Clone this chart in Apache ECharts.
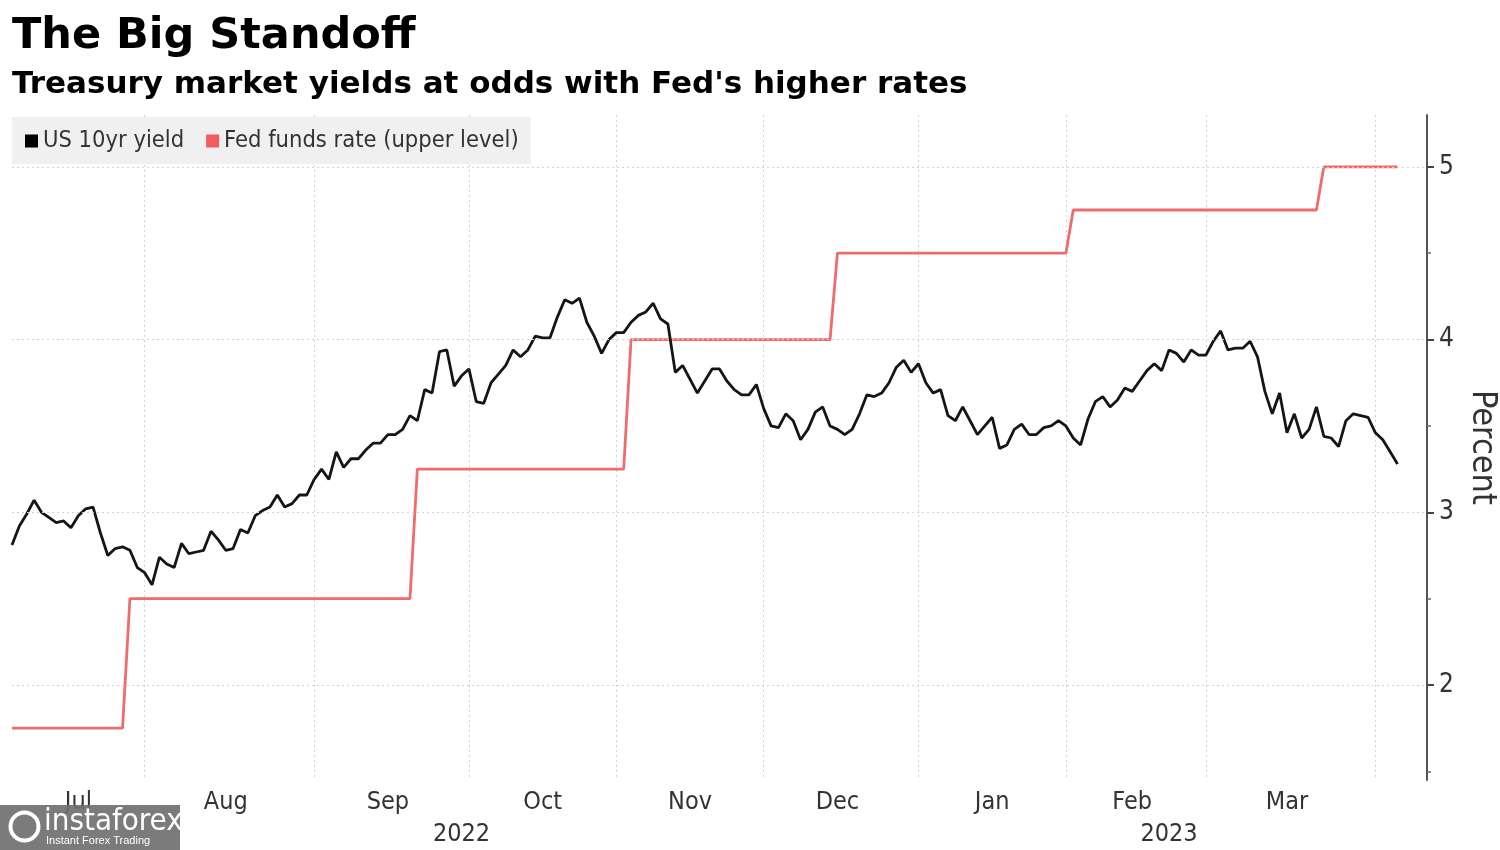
<!DOCTYPE html>
<html>
<head>
<meta charset="utf-8">
<script src="https://cdn.jsdelivr.net/npm/echarts@6/dist/echarts.min.js"></script>
<style>html,body{margin:0;padding:0;background:#fff}#c{width:1500px;height:850px}</style>
</head>
<body>
<div id="c"></div>
<script>
// Trading days shown on the axis (bond-market calendar)
const daysJul22 = [5,6,7,8,11,12,13,14,15,18,19,20,21,22,25,26,27,28,29];
const daysAug22 = [1,2,3,4,5,8,9,10,11,12,15,16,17,18,19,22,23,24,25,26,29,30,31];
const daysSep22 = [1,2,6,7,8,9,12,13,14,15,16,19,20,21,22,23,26,27,28,29,30];
const daysOct22 = [3,4,5,6,7,11,12,13,14,17,18,19,20,21,24,25,26,27,28,31];
const daysNov22 = [1,2,3,4,7,8,9,10,14,15,16,17,18,21,22,23,25,28,29,30];
const daysDec22 = [1,2,5,6,7,8,9,12,13,14,15,16,19,20,21,22,23,27,28,29,30];
const daysJan23 = [3,4,5,6,9,10,11,12,13,17,18,19,20,23,24,25,26,27,30,31];
const daysFeb23 = [1,2,3,6,7,8,9,10,13,14,15,16,17,21,22,23,24,27,28];
const daysMar23 = [1,2,3,6,7,8,9,10,13,14,15,16,17,20,21,22,23,24,27,28,29,30,31];
const daysApr23 = [3,4,5,6,10,11,12];

// US 10yr yield, one value per trading day from 2022-07-05 to 2023-04-05
const yield10y = [
  2.81,2.92,2.99,3.07,3.00,2.97,2.94,2.95,2.91,2.98,3.02,3.03,2.88,2.75,2.79,2.80,2.78,2.68,2.65,
  2.58,2.74,2.70,2.68,2.82,2.76,2.77,2.78,2.89,2.84,2.78,2.79,2.90,2.88,2.98,3.01,3.03,3.10,3.03,3.05,3.10,3.10,3.19,
  3.25,3.19,3.35,3.26,3.31,3.31,3.36,3.40,3.40,3.45,3.45,3.48,3.56,3.53,3.71,3.69,3.93,3.94,3.73,3.79,3.83,
  3.64,3.63,3.75,3.80,3.85,3.94,3.90,3.94,4.02,4.01,4.01,4.13,4.23,4.21,4.24,4.10,4.02,3.92,4.00,4.04,
  4.04,4.10,4.14,4.16,4.21,4.12,4.09,3.81,3.85,3.77,3.69,3.76,3.83,3.83,3.76,3.71,3.68,3.68,3.74,3.60,
  3.50,3.49,3.57,3.53,3.42,3.48,3.58,3.61,3.50,3.48,3.45,3.48,3.57,3.68,3.67,3.69,3.75,3.84,3.88,3.81,3.86,
  3.75,3.69,3.71,3.56,3.53,3.61,3.53,3.45,3.50,3.55,3.37,3.39,3.48,3.51,3.45,3.45,3.49,3.50,3.53,3.50,
  3.43,3.39,3.54,3.64,3.67,3.61,3.65,3.72,3.70,3.76,3.82,3.86,3.82,3.94,3.92,3.87,3.94,3.91,3.91,
  3.99,4.05,3.94,3.95,3.95,3.99,3.90,3.70,3.57,3.69,3.46,3.57,3.43,3.48,3.61,3.44,3.43,3.38,3.53,3.57,3.56,3.55,3.46,
  3.42,3.35,3.28
];

// Fed funds rate (upper level): level changes
const fedDates  = ['2022-07-05','2022-07-26','2022-07-27','2022-09-20','2022-09-21','2022-11-01','2022-11-02','2022-12-13','2022-12-14','2023-01-31','2023-02-01','2023-03-21','2023-03-22','2023-04-05'];
const fedValues = [1.75,1.75,2.5,2.5,3.25,3.25,4.0,4.0,4.5,4.5,4.75,4.75,5.0,5.0];

// Axis ticks and labels
const yMajorTicks = [2,3,4,5];
const yMinorTicks = [1.5,2.5,3.5,4.5];
const monthNames = ['Jan','Feb','Mar','Apr','May','Jun','Jul','Aug','Sep','Oct','Nov','Dec'];
const monthLabelDates = ['2022-07-18','2022-08-15','2022-09-15','2022-10-17','2022-11-15','2022-12-14','2023-01-17','2023-02-13','2023-03-15'];
const monthEndDates = ['2022-07-29','2022-08-31','2022-09-30','2022-10-31','2022-11-30','2022-12-30','2023-01-31','2023-02-28','2023-03-31'];
const yearLabelDates = ['2022-09-29','2023-02-21'];

const months = [['2022-07',daysJul22],['2022-08',daysAug22],['2022-09',daysSep22],['2022-10',daysOct22],['2022-11',daysNov22],['2022-12',daysDec22],['2023-01',daysJan23],['2023-02',daysFeb23],['2023-03',daysMar23],['2023-04',daysApr23]];
const categories = [];
months.forEach(([m, ds]) => ds.forEach(d => categories.push(m + '-' + String(d).padStart(2,'0'))));

const idxSet = arr => new Set(arr.map(d => categories.indexOf(d)));
const monthLabelIdx = idxSet(monthLabelDates);
const monthEndIdx = idxSet(monthEndDates);
const yearLabelIdx = idxSet(yearLabelDates);
const fedPoints = fedDates.map((d, i) => [d, fedValues[i]]);

const FC = "'DejaVu Sans Condensed','Liberation Sans Narrow','DejaVu Sans',sans-serif";
const FB = "'DejaVu Sans','Verdana',sans-serif";

const chart = echarts.init(document.getElementById('c'), null, {renderer:'canvas'});
chart.setOption({
  animation: false,
  backgroundColor: '#ffffff',
  title: [
    {text: 'The Big Standoff', left: 12, top: 15, padding: 0,
     textStyle: {fontFamily: FB, fontWeight: 'bold', fontSize: 43, color: '#000'}},
    {text: "Treasury market yields at odds with Fed's higher rates", left: 12, top: 69, padding: 0,
     textStyle: {fontFamily: FB, fontWeight: 'bold', fontSize: 31, color: '#000'}}
  ],
  legend: {
    left: 12, top: 117, padding: [12, 12, 11, 13], itemWidth: 13, itemHeight: 13, itemGap: 22,
    icon: 'rect', backgroundColor: '#f0f0f0', selectedMode: false,
    textStyle: {fontFamily: FC, fontSize: 23.5, color: '#333'},
    data: ['US 10yr yield', 'Fed funds rate (upper level)']
  },
  grid: {left: 12, right: 73, top: 115, bottom: 70, outerBoundsMode: 'none'},
  xAxis: [
    {type: 'category', data: categories, boundaryGap: false,
     axisLine: {show: false}, axisTick: {show: false},
     axisLabel: {interval: (i) => monthLabelIdx.has(i), formatter: v => monthNames[+v.slice(5,7) - 1],
                 fontFamily: FC, fontSize: 25, color: '#333', margin: 10},
     splitLine: {show: true, interval: (i) => monthEndIdx.has(i), lineStyle: {type: [2, 3], color: '#d2d2d2', width: 1}}},
    {type: 'category', data: categories, boundaryGap: false, position: 'bottom', offset: 32,
     axisLine: {show: false}, axisTick: {show: false}, splitLine: {show: false},
     axisLabel: {interval: (i) => yearLabelIdx.has(i), formatter: v => v.slice(0,4),
                 fontFamily: FC, fontSize: 25, color: '#333', margin: 10}}
  ],
  yAxis: [
    {type: 'value', position: 'right', min: 1.45, max: 5.3,
     axisLine: {show: true, lineStyle: {color: '#555', width: 2}},
     axisTick: {show: true, customValues: yMajorTicks, length: 7, lineStyle: {color: '#444', width: 2}},
     axisLabel: {customValues: yMajorTicks, fontFamily: FC, fontSize: 26, color: '#333', margin: 12},
     splitLine: {show: false},
     name: 'Percent', nameLocation: 'middle', nameRotate: -90, nameGap: 33,
     nameTextStyle: {fontFamily: FC, fontSize: 34, color: '#333'}},
    {type: 'value', position: 'right', min: 1.45, max: 5.3,
     axisLine: {show: false},
     axisTick: {show: true, customValues: yMinorTicks, length: 4, lineStyle: {color: '#666', width: 1.5}},
     axisLabel: {show: false}, splitLine: {show: false}}
  ],
  series: [
    {name: 'gridlines', type: 'line', data: [], z: 1, silent: true,
     markLine: {silent: true, symbol: ['none','none'], label: {show: false},
                lineStyle: {type: [2, 3], color: '#d2d2d2', width: 1},
                emphasis: {disabled: true},
                data: yMajorTicks.map(v => ({yAxis: v}))}},
    {name: 'Fed funds rate (upper level)', type: 'line', data: fedPoints, z: 3,
     symbol: 'none', lineStyle: {color: '#f06b6b', width: 2.8}, itemStyle: {color: '#f25c5c'}},
    {name: 'US 10yr yield', type: 'line', data: yield10y, z: 4,
     symbol: 'none', lineStyle: {color: '#151515', width: 2.8}, itemStyle: {color: '#000'}}
  ],
  graphic: [
    {type: 'rect', left: 0, top: 805, shape: {width: 180, height: 45}, style: {fill: 'rgba(112,112,112,0.92)'}, z: 100},
    {type: 'circle', left: 8, top: 810, shape: {r: 14}, style: {fill: 'none', stroke: '#fff', lineWidth: 4}, z: 101},
    {type: 'text', left: 44, top: 806, style: {text: 'instaforex', fill: '#fff', font: "31px 'Liberation Sans Narrow','DejaVu Sans Condensed',sans-serif"}, z: 101},
    {type: 'text', left: 46, top: 835, style: {text: 'Instant Forex Trading', fill: '#fff', font: "11px 'Liberation Sans',sans-serif"}, z: 101}
  ]
});
</script>
</body>
</html>
